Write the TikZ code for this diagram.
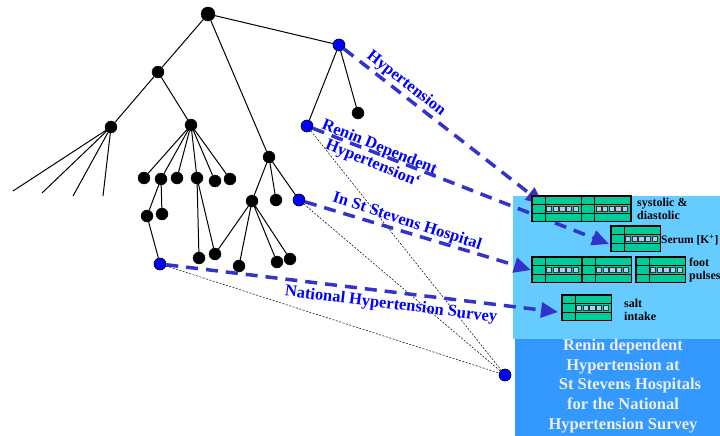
\documentclass[tikz,border=0pt]{standalone}
\usepackage{fontspec}
\setmainfont{Liberation Serif}
\usetikzlibrary{arrows.meta}
\definecolor{lblue}{HTML}{0000FF}
\definecolor{nodeblue}{HTML}{0000FF}
\definecolor{arrowblue}{HTML}{3333CC}
\definecolor{boxlight}{HTML}{66CCFF}
\definecolor{boxdark}{HTML}{3399FF}
\definecolor{tgreen}{HTML}{00CC99}
\definecolor{sq}{HTML}{A8D0F8}
\definecolor{boxtext}{HTML}{EEEEF4}
\newcommand{\subtab}[2]{%
  \draw[fill=tgreen, line width=1.2pt] (#1,#2) rectangle ++(49.5,25.5);
  \draw[line width=1pt] (#1+13,#2) -- ++(0,25.5) (#1,#2+8.5) -- ++(49.5,0) (#1,#2+17) -- ++(49.5,0);
  \foreach \k in {0,...,4} \draw[fill=sq, line width=0.7pt, draw=black!80] (#1+14.5+\k*6.6,#2+10) rectangle ++(5.2,5.5);
}
\begin{document}
\begin{tikzpicture}[x=1pt,y=-1pt,
  dot/.style={circle,fill=black,draw=black,inner sep=0pt,minimum size=12pt},
  bdot/.style={circle,fill=nodeblue,draw=black,line width=0.6pt,inner sep=0pt,minimum size=12pt},
  tree/.style={line width=1pt},
  faint/.style={line width=0.5pt, dash pattern=on 2pt off 1.5pt},
  bigarrow/.style={draw=arrowblue, line width=3.5pt, dash pattern=on 12pt off 8pt, -{Triangle[length=17pt,width=15pt]}},
  lab/.style={text=lblue, font=\fontsize{16.5}{17.5}\selectfont\bfseries, inner sep=0pt},
  tlab/.style={text=black, font=\fontsize{12}{13.5}\selectfont\bfseries, inner sep=0pt, align=left},
  boxlab/.style={text=boxtext, font=\fontsize{16.5}{19.7}\selectfont\bfseries, inner sep=0pt, align=center}
]
\useasboundingbox (0,0) rectangle (720,436);
% background boxes
\fill[boxlight] (513,196) rectangle (720,339);
\fill[boxdark] (515,339) rectangle (720,436);

% tree nodes
\node[dot, minimum size=14pt] (root) at (208,14) {};
\node[bdot] (b1) at (339,45) {};
\node[dot] (n1) at (158,72) {};
\node[bdot] (b2) at (307,126) {};
\node[dot] (n2) at (358,113) {};
\node[dot] (n3) at (111,127) {};
\node[dot] (n4) at (191,125) {};
\node[dot] (n5) at (269,157) {};
\coordinate (l1) at (13,191);
\coordinate (l2) at (42,193);
\coordinate (l3) at (73,196);
\coordinate (l4) at (103,196);
\node[dot] (c1) at (144,178) {};
\node[dot] (c2) at (161,179) {};
\node[dot] (c3) at (177,178) {};
\node[dot] (c4) at (197,178) {};
\node[dot] (c5) at (215,181) {};
\node[dot] (c6) at (230,179) {};
\node[dot] (d1) at (147,216) {};
\node[dot] (d2) at (162,214) {};
\node[bdot] (b3) at (160,264) {};
\node[dot] (e1) at (199,258) {};
\node[dot] (e2) at (215,254) {};
\node[dot] (f1) at (252,201) {};
\node[dot] (f2) at (276,200) {};
\node[bdot] (b4) at (299,200) {};
\node[dot] (g1) at (239,266) {};
\node[dot] (g2) at (277,262) {};
\node[dot] (g3) at (290,259) {};
\node[bdot] (b5) at (505,375) {};

% tree edges
\draw[tree] (root) -- (n1) (root) -- (b1) (root) -- (n5)
  (n1) -- (n3) (n1) -- (n4) (b1) -- (b2) (b1) -- (n2)
  (n3) -- (l1) (n3) -- (l2) (n3) -- (l3) (n3) -- (l4)
  (n4) -- (c1) (n4) -- (c2) (n4) -- (c3) (n4) -- (c4) (n4) -- (c5) (n4) -- (c6)
  (c2) -- (d1) (c2) -- (d2) (d1) -- (b3)
  (c4) -- (e1) (c4) -- (e2)
  (n5) -- (f1) (n5) -- (f2) (n5) -- (b4)
  (f1) -- (e2) (f1) -- (g1) (f1) -- (g2) (f1) -- (g3);

% faint dashed lines
\draw[faint] (b2) -- (b5) (b4) -- (b5) (b3) -- (b5);

% arrow targets
\coordinate (t1) at (543,204);
\coordinate (t2) at (609,244);
\coordinate (t3) at (531,270);
\coordinate (t4) at (558,312);

\draw[bigarrow] (b1) -- (t1);
\draw[bigarrow] (b2) -- (t2);
\draw[bigarrow] (b4) -- (t3);
\draw[bigarrow] (b3) -- (t4);

% tables
\subtab{532}{196}\subtab{581.5}{196}
\subtab{611}{226}
\subtab{532}{257}\subtab{582}{257}\subtab{636}{257}
\subtab{562}{295}

% table labels
\node[tlab, anchor=west] (ts) at (637,209) {systolic \&\\diastolic};
\node[tlab, anchor=west, font=\fontsize{11.5}{13}\selectfont\bfseries] (tk) at (661,240) {Serum [K\textsuperscript{+}]};
\node[tlab, anchor=west] (tf) at (689,270) {foot\\pulses};
\node[tlab, anchor=west] (tsi) at (624,310) {salt\\intake};

% arrow labels
\node[lab, rotate=-38] (lh) at (406,84) {Hypertension};
\node[lab, rotate=-22, align=center] (lr) at (376,156) {Renin Dependent\\Hypertension`};
\node[lab, rotate=-18] (ls) at (407,222) {In St Stevens Hospital};
\node[lab, rotate=-7] (ln) at (391,305) {National Hypertension Survey};

% box text
\node[boxlab] (bt) at (623,386) {Renin dependent\\Hypertension at\\\hspace*{14pt}St Stevens Hospitals\\for the National\\Hypertension Survey};
\end{tikzpicture}
\end{document}
